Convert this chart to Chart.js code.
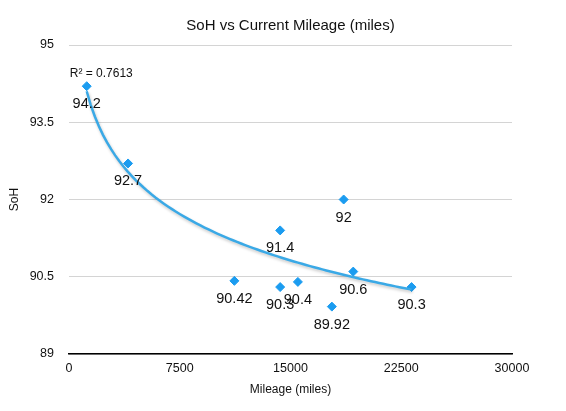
<!DOCTYPE html>
<html>
<head>
<meta charset="utf-8">
<script src="https://cdn.jsdelivr.net/npm/chart.js@4.4.1/dist/chart.umd.min.js"></script>
<style>
  html, body { margin: 0; padding: 0; background: #fff; }
  #wrap { width: 566px; height: 411px; }
</style>
</head>
<body>
<div id="wrap"><canvas id="sohChart"></canvas></div>
<script>
// data
const MILEAGE = [1200, 4000, 11200, 14300, 14300, 15500, 17800, 18600, 19250, 23200];
const SOH = [94.2, 92.7, 90.42, 91.4, 90.3, 90.4, 89.92, 92, 90.6, 90.3];
const POINT_LABELS = ['94.2', '92.7', '90.42', '91.4', '90.3', '90.4', '89.92', '92', '90.6', '90.3'];
const X_TICKS = [0, 7500, 15000, 22500, 30000];
const Y_TICKS = [89, 90.5, 92, 93.5, 95];
const R2_TEXT = 'R\u00B2 = 0.7613';

const FONT = "'Liberation Sans', Arial, Helvetica, sans-serif";
const DOT_BLUE = '#1b9cf0';
const LINE_BLUE = '#3aa9e6';

// logarithmic trendline (y = a*ln(x) + b), fitted to the points above
function logFit(xs, ys) {
    const n = xs.length;
    let sx = 0, sy = 0, sxx = 0, sxy = 0;
    for (let i = 0; i < n; i++) {
        const lx = Math.log(xs[i]);
        sx += lx; sy += ys[i]; sxx += lx * lx; sxy += lx * ys[i];
    }
    const a = (n * sxy - sx * sy) / (n * sxx - sx * sx);
    const b = (sy - a * sx) / n;
    return x => a * Math.log(x) + b;
}

const fit = logFit(MILEAGE, SOH);
const xMin = Math.min(...MILEAGE), xMax = Math.max(...MILEAGE);
const trend = [];
for (let i = 0; i <= 80; i++) {
    const x = xMin + (xMax - xMin) * i / 80;
    trend.push({ x: x, y: fit(x) });
}

const scatter = MILEAGE.map((m, i) => ({ x: m, y: SOH[i] }));

// value labels under each point + the R² note near the start of the trendline
const labelPlugin = {
    id: 'pointLabels',
    afterDatasetsDraw(chart) {
        const ctx = chart.ctx;
        const meta = chart.getDatasetMeta(1);
        ctx.save();
        ctx.font = '14.5px ' + FONT;
        ctx.fillStyle = '#111';
        ctx.textAlign = 'center';
        ctx.textBaseline = 'middle';
        meta.data.forEach((pt, i) => {
            ctx.fillText(POINT_LABELS[i], pt.x, pt.y + 18);
        });
        const xs = chart.scales.x, ys = chart.scales.y;
        ctx.font = '12px ' + FONT;
        ctx.textAlign = 'left';
        ctx.fillText(R2_TEXT, xs.getPixelForValue(trend[0].x) - 17, ys.getPixelForValue(trend[0].y) - 18);
        ctx.restore();
    }
};

// soft shadow under the trendline
const shadowPlugin = {
    id: 'trendShadow',
    beforeDatasetDraw(chart, args) {
        if (args.index !== 0) return;
        const ctx = chart.ctx;
        ctx.save();
        ctx.shadowColor = 'rgba(0,0,0,0.22)';
        ctx.shadowBlur = 3;
        ctx.shadowOffsetX = 1;
        ctx.shadowOffsetY = 2;
    },
    afterDatasetDraw(chart, args) {
        if (args.index !== 0) return;
        chart.ctx.restore();
    }
};

new Chart(document.getElementById('sohChart'), {
    type: 'scatter',
    data: {
        datasets: [
            {
                type: 'line',
                data: trend,
                borderColor: LINE_BLUE,
                borderWidth: 2.5,
                pointRadius: 0,
                tension: 0,
                fill: false,
                order: 0
            },
            {
                data: scatter,
                pointStyle: 'rectRot',
                pointRadius: 4.5,
                pointBorderWidth: 1,
                backgroundColor: DOT_BLUE,
                borderColor: DOT_BLUE,
                order: 1
            }
        ]
    },
    options: {
        responsive: true,
        maintainAspectRatio: false,
        animation: false,
        layout: { padding: { left: 0, right: 54, top: 0, bottom: 0 } },
        plugins: {
            legend: { display: false },
            tooltip: { enabled: false },
            title: {
                display: true,
                text: 'SoH vs Current Mileage (miles)',
                fullSize: false,
                color: '#111',
                font: { family: FONT, size: 15, weight: 'normal' },
                padding: { top: 17, bottom: 10 }
            }
        },
        scales: {
            x: {
                type: 'linear',
                min: 0,
                max: 30000,
                afterBuildTicks: s => { s.ticks = X_TICKS.map(v => ({ value: v })); },
                afterFit: s => { s.height = 57; },
                grid: { display: false, drawTicks: false },
                border: { display: true, color: '#000', width: 1.5 },
                ticks: {
                    color: '#111',
                    padding: 7,
                    maxRotation: 0,
                    font: { family: FONT, size: 12.5 },
                    callback: v => String(v)
                },
                title: {
                    display: true,
                    text: 'Mileage (miles)',
                    color: '#111',
                    font: { family: FONT, size: 12 },
                    padding: { top: 0, bottom: 14 }
                }
            },
            y: {
                min: 89,
                max: 95,
                afterBuildTicks: s => { s.ticks = Y_TICKS.map(v => ({ value: v })); },
                afterFit: s => { s.width = 69; },
                grid: { color: '#d4d4d4', lineWidth: 1, drawTicks: false },
                border: { display: false },
                ticks: {
                    color: '#111',
                    padding: 15,
                    font: { family: FONT, size: 12.5 },
                    callback: v => String(v)
                },
                title: {
                    display: true,
                    text: 'SoH',
                    color: '#111',
                    font: { family: FONT, size: 12 },
                    padding: { top: 7, bottom: 0 }
                }
            }
        }
    },
    plugins: [shadowPlugin, labelPlugin]
});
</script>
</body>
</html>
